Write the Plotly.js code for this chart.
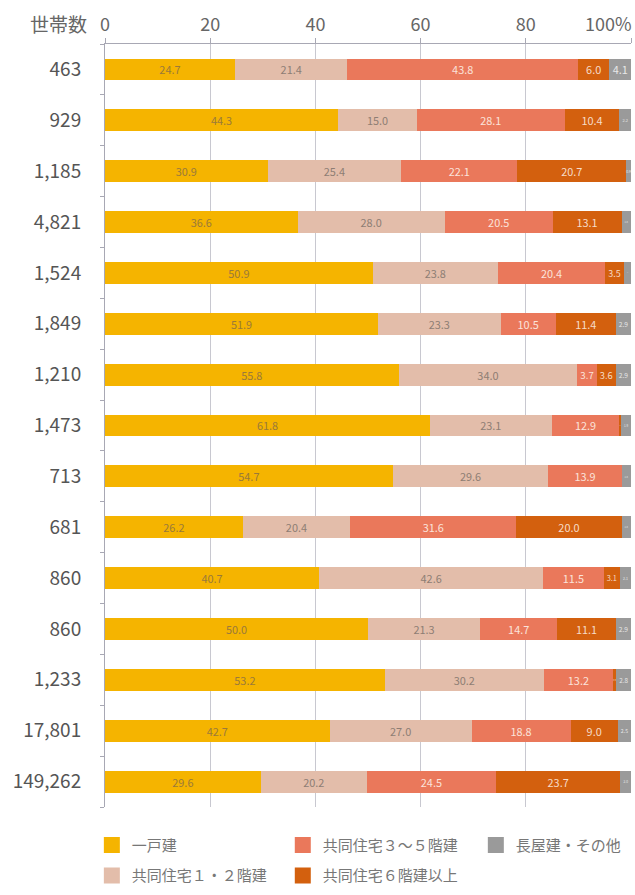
<!DOCTYPE html>
<html><head><meta charset="utf-8">
<script src="https://cdn.plot.ly/plotly-3.0.1.min.js"></script>
<style>body{margin:0;background:#fff}#c{width:635px;height:895px}</style>
</head><body><div id="c"></div>
<script>
const households = ["463","929","1,185","4,821","1,524","1,849","1,210","1,473","713","681","860","860","1,233","17,801","149,262"];
const detached   = [24.7,44.3,30.9,36.6,50.9,51.9,55.8,61.8,54.7,26.2,40.7,50.0,53.2,42.7,29.6];
const apt12      = [21.4,15.0,25.4,28.0,23.8,23.3,34.0,23.1,29.6,20.4,42.6,21.3,30.2,27.0,20.2];
const apt35      = [43.8,28.1,22.1,20.5,20.4,10.5,3.7,12.9,13.9,31.6,11.5,14.7,13.2,18.8,24.5];
const apt6       = [6.0,10.4,20.7,13.1,3.5,11.4,3.6,0.3,0,20.0,3.1,11.1,0.6,9.0,23.7];
const other      = [4.1,2.2,0.9,1.8,1.4,2.9,2.9,1.9,1.8,1.8,2.1,2.9,2.8,2.5,2.0];
const seriesNames = ["一戸建","共同住宅１・２階建","共同住宅３～５階建","共同住宅６階建以上","長屋建・その他"];
const xTickVals = [0,20,40,60,80,100];
const xTickText = ["0","20","40","60","80",""];
const lastTickLabel = "100%";

const rows = households.map((_, i) => i);
const colors = ["#F5B400","#E3BDAA","#EA785B","#D3600E","#9A9A9A"];
const textColors = ["#9a7a3a","#8e7d74","#fbe3da","#f6dcc8","#e8e8e8"];
const legendOf = ["legend","legend","legend2","legend2","legend3"];
const bars = [detached, apt12, apt35, apt6, other].map((vals, k) => ({
  type: "bar", orientation: "h", name: seriesNames[k],
  x: vals, y: rows, width: 0.43, showlegend: false,
  marker: {color: colors[k], line: {width: 0}},
  text: vals.map(v => v > 0 ? v.toFixed(1) : ""),
  textposition: "inside", insidetextanchor: "middle", textangle: 0,
  textfont: {family: "Noto Sans CJK JP", size: 11, color: textColors[k]}
}));
const keys = seriesNames.map((n, k) => ({
  type: "scatter", mode: "markers", name: n, x: [null], y: [null],
  marker: {symbol: "square", size: 16, color: colors[k]},
  legend: legendOf[k], legendgroup: "g" + k, showlegend: true
}));

const legendBase = {
  orientation: "v", xanchor: "left", yanchor: "top", y: -0.027,
  font: {size: 15, color: "#777", family: "Noto Sans CJK JP"},
  itemwidth: 30, tracegroupgap: 8, bgcolor: "rgba(0,0,0,0)"
};
const layout = {
  width: 635, height: 895,
  margin: {l: 105, r: 4, t: 44, b: 87},
  barmode: "stack",
  paper_bgcolor: "#fff", plot_bgcolor: "#fff",
  font: {family: "Noto Sans CJK JP", color: "#666"},
  xaxis: {
    side: "top", range: [0, 100], tickvals: xTickVals, ticktext: xTickText,
    showgrid: true, gridcolor: "#c8c8d0", gridwidth: 1,
    showline: true, linecolor: "#a8a8b4", ticks: "outside", ticklen: 5, tickcolor: "#a8a8b4",
    tickfont: {size: 18, color: "#666"}, zeroline: false
  },
  yaxis: {
    range: [14.5, -0.5], tickvals: rows, ticktext: households,
    showline: true, linecolor: "#a8a8b4", ticks: "", showgrid: false, zeroline: false,
    tickfont: {size: 19, color: "#555"}, ticklabelstandoff: 19,
    minor: {ticks: "outside", tick0: 0.5, dtick: 1, ticklen: 4, tickcolor: "#a8a8b4"}
  },
  showlegend: true,
  legend:  Object.assign({}, legendBase, {x: -0.025}),
  legend2: Object.assign({}, legendBase, {x: 0.338}),
  legend3: Object.assign({}, legendBase, {x: 0.705}),
  annotations: [{
    text: "世帯数", xref: "paper", yref: "paper", x: -0.03, y: 1, yshift: 21,
    xanchor: "right", yanchor: "middle", showarrow: false,
    font: {size: 19, color: "#666"}
  }, {
    text: lastTickLabel, xref: "paper", yref: "paper", x: 1, y: 1, yshift: 21, xshift: 3,
    xanchor: "right", yanchor: "middle", showarrow: false,
    font: {size: 18, color: "#666"}
  }]
};
Plotly.newPlot("c", bars.concat(keys), layout, {displayModeBar: false, staticPlot: true});
</script></body></html>
